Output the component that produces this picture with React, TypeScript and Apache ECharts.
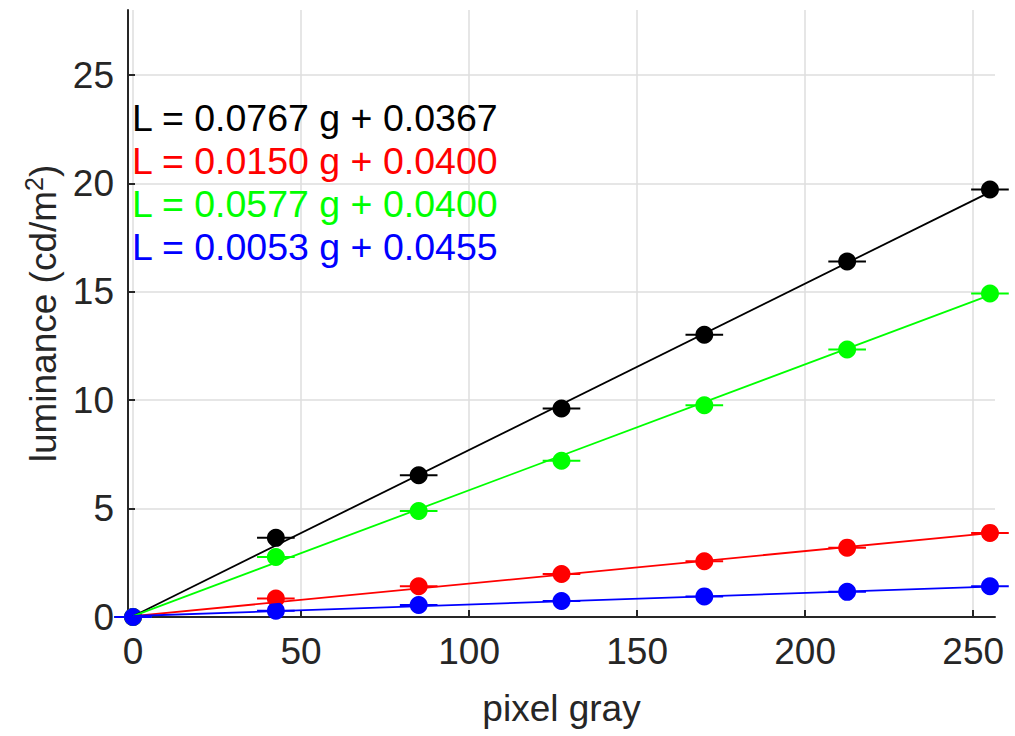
import React, { useEffect, useRef } from "react";
import * as echarts from "echarts";

// ---- data ----
const gray = [0, 42.5, 85, 127.5, 170, 212.5, 255];
const blackL = [0, 3.65, 6.54, 9.62, 13.02, 16.4, 19.72];
const redL = [0, 0.85, 1.42, 1.98, 2.57, 3.2, 3.88];
const greenL = [0, 2.77, 4.89, 7.21, 9.77, 12.34, 14.92];
const blueL = [0, 0.29, 0.55, 0.74, 0.95, 1.16, 1.42];
const grayErr = 5.6; // half width of horizontal error bars

const fitX = [0, 255];
const blackFit = [0.0367, 19.6];
const redFit = [0.04, 3.865];
const greenFit = [0.04, 14.85];
const blueFit = [0.0455, 1.4];

const equations = [
  "L = 0.0767 g + 0.0367",
  "L = 0.0150 g + 0.0400",
  "L = 0.0577 g + 0.0400",
  "L = 0.0053 g + 0.0455",
];

const xTicks = [0, 50, 100, 150, 200, 250];
const yTicks = [0, 5, 10, 15, 20, 25];

const FONT = "'Liberation Sans', Arial, Helvetica, sans-serif";
const AXIS_COLOR = "#262626";

const groups = [
  { name: "black", color: "#000000", values: blackL, fit: blackFit },
  { name: "red", color: "#ff0000", values: redL, fit: redFit },
  { name: "green", color: "#00ff00", values: greenL, fit: greenFit },
  { name: "blue", color: "#0000ff", values: blueL, fit: blueFit },
];

export default function App() {
  const ref = useRef<HTMLDivElement>(null);

  useEffect(() => {
    if (!ref.current) return;
    const chart = echarts.init(ref.current, null, { renderer: "svg" });

    const series: any[] = [];
    groups.forEach((g) => {
      series.push({
        type: "custom",
        name: g.name + "-err",
        clip: false,
        silent: true,
        data: gray.map((x, i) => [x, g.values[i], grayErr]),
        renderItem: (params: any, api: any) => {
          const x = api.value(0);
          const y = api.value(1);
          const e = api.value(2);
          const p1 = api.coord([x - e, y]);
          const p2 = api.coord([x + e, y]);
          return {
            type: "line",
            shape: { x1: p1[0], y1: p1[1], x2: p2[0], y2: p2[1] },
            style: { stroke: g.color, lineWidth: 2 },
          };
        },
      });
      series.push({
        type: "scatter",
        name: g.name,
        clip: false,
        symbol: "circle",
        symbolSize: 18,
        itemStyle: { color: g.color, opacity: 1 },
        data: gray.map((x, i) => [x, g.values[i]]),
      });
      series.push({
        type: "line",
        name: g.name + "-fit",
        clip: false,
        showSymbol: false,
        symbol: "none",
        lineStyle: { color: g.color, width: 1.8 },
        data: fitX.map((x, i) => [x, g.fit[i]]),
      });
    });

    chart.setOption({
      animation: false,
      backgroundColor: "#ffffff",
      grid: {
        left: 128,
        right: 20,
        top: 10,
        bottom: 119,
        containLabel: false,
        outerBoundsMode: "none",
      },
      xAxis: {
        type: "value",
        min: -1.5,
        max: 256.5,
        name: "pixel gray",
        nameLocation: "middle",
        nameGap: 73,
        nameTextStyle: { fontFamily: FONT, fontSize: 37, color: AXIS_COLOR },
        axisLine: { show: true, onZero: false, lineStyle: { color: AXIS_COLOR, width: 2 } },
        axisTick: {
          show: true,
          inside: true,
          length: 7,
          customValues: xTicks,
          lineStyle: { color: AXIS_COLOR, width: 2 },
        },
        axisLabel: {
          customValues: xTicks,
          margin: 16,
          fontFamily: FONT,
          fontSize: 37,
          color: AXIS_COLOR,
        },
        splitLine: { show: true, lineStyle: { color: "#dedede", width: 1.5 } },
      },
      yAxis: {
        type: "value",
        min: 0,
        max: 28,
        name: "{a|luminance (cd/m}{b|2}{a|)}",
        nameLocation: "middle",
        nameGap: 62,
        nameTextStyle: {
          fontFamily: FONT,
          fontSize: 37,
          color: AXIS_COLOR,
          rich: {
            a: { fontFamily: FONT, fontSize: 37, color: AXIS_COLOR, lineHeight: 44 },
            b: { fontFamily: FONT, fontSize: 25, color: AXIS_COLOR, verticalAlign: "top", lineHeight: 44 },
          },
        },
        axisLine: { show: true, onZero: false, lineStyle: { color: AXIS_COLOR, width: 2 } },
        axisTick: {
          show: true,
          inside: true,
          length: 7,
          customValues: yTicks,
          lineStyle: { color: AXIS_COLOR, width: 2 },
        },
        axisLabel: {
          customValues: yTicks,
          margin: 14,
          fontFamily: FONT,
          fontSize: 37,
          color: AXIS_COLOR,
        },
        splitLine: { show: true, lineStyle: { color: "#dedede", width: 1.5 } },
      },
      graphic: equations.map((t, i) => ({
        type: "text",
        x: 132,
        y: 117.7 + i * 43.1,
        z: 100,
        silent: true,
        style: {
          text: t,
          fill: groups[i].color,
          font: "37.5px " + FONT,
          verticalAlign: "middle",
          align: "left",
        },
      })),
      series,
    });

    return () => chart.dispose();
  }, []);

  return (
    <div
      ref={ref}
      style={{ position: "fixed", left: 0, top: 0, width: 1015, height: 736 }}
    />
  );
}
